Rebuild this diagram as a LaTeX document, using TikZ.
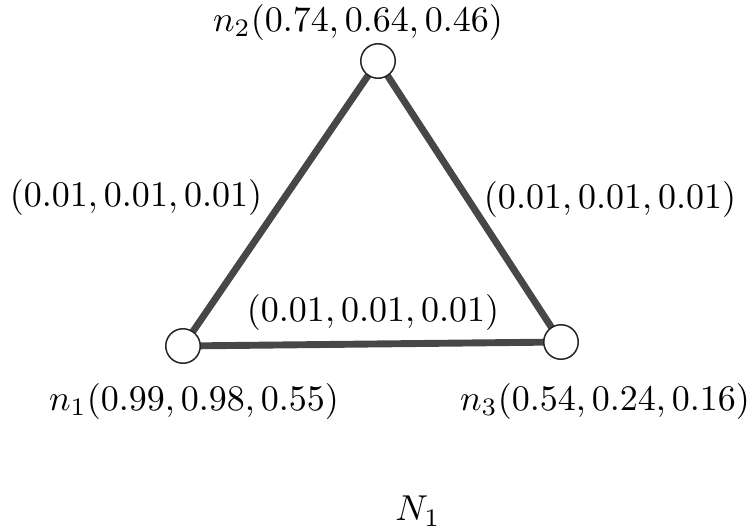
\documentclass[tikz,border=0pt]{standalone}
\begin{document}
\begin{tikzpicture}[x=0.3333pt,y=-0.3333pt,
  vertex/.style={circle,draw=black!85,line width=0.5pt,fill=white,minimum size=11.5pt,inner sep=0pt},
  edgeline/.style={draw=black!72,line width=2.3pt},
  lbl/.style={inner sep=0pt}]
\newcommand{\bigtxt}[1]{\scalebox{1.2}{$#1$}}
\useasboundingbox (0,0) rectangle (756,531);
\coordinate (p1) at (183,346);
\coordinate (p2) at (378,61);
\coordinate (p3) at (561,342);
\draw[edgeline] (p1) -- (p2) -- (p3) -- cycle;
\node[vertex] (n1) at (p1) {};
\node[vertex] (n2) at (p2) {};
\node[vertex] (n3) at (p3) {};
\node[lbl] (l2) at (358,22) {\bigtxt{n_2(0.74, 0.64, 0.46)}};
\node[lbl] (l1) at (194,401) {\bigtxt{n_1(0.99, 0.98, 0.55)}};
\node[lbl] (l3) at (605,401) {\bigtxt{n_3(0.54, 0.24, 0.16)}};
\node[lbl] (e12) at (136,197) {\bigtxt{(0.01, 0.01, 0.01)}};
\node[lbl] (e23) at (610,199) {\bigtxt{(0.01, 0.01, 0.01)}};
\node[lbl] (e13) at (373,312) {\bigtxt{(0.01, 0.01, 0.01)}};
\node[lbl] (N) at (418,511) {\bigtxt{N_1}};
\end{tikzpicture}
\end{document}
